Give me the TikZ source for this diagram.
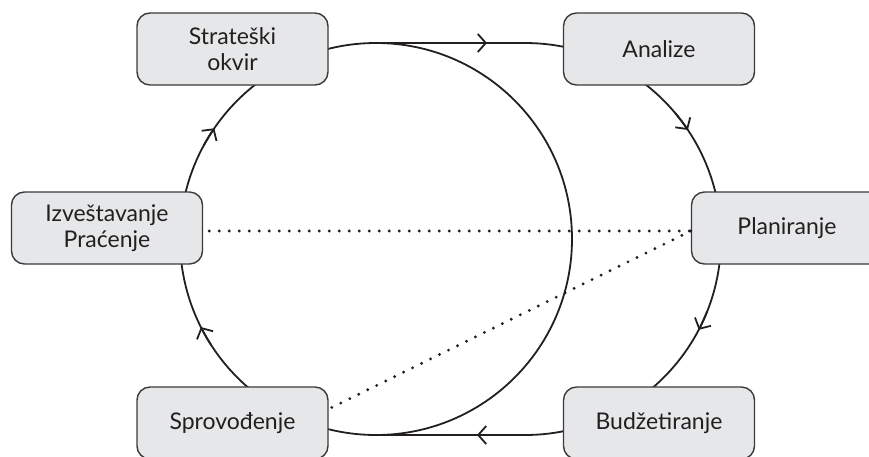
\documentclass[tikz,border=0pt]{standalone}
\usepackage{fontspec}
\setmainfont{Lato}
\usetikzlibrary{arrows.meta,calc}
\definecolor{boxfill}{HTML}{E6E7E8}
\definecolor{boxline}{HTML}{3A3A3A}
\definecolor{ink}{HTML}{231F20}
\tikzset{
  stagebox/.style={draw=boxline, line width=1.4pt, fill=boxfill, rounded corners=13pt,
    minimum width=191pt, minimum height=72pt, align=center, inner sep=0pt,
    font=\fontsize{23}{26}\selectfont, text=ink},
  loopline/.style={draw=ink, line width=1.8pt},
  chev/.style={draw=ink, line width=1.8pt, -{Straight Barb[length=8pt,width=18pt]}},
  dotline/.style={draw=ink, line width=3.2pt, line cap=round, dash pattern=on 0pt off 10pt}
}
\begin{document}
\begin{tikzpicture}[x=1pt,y=-1pt]
\useasboundingbox (0,0) rectangle (869,456);
\clip (0,0) rectangle (869,456);
% loop
\draw[loopline] (376,239) circle[radius=196];
\draw[loopline] (376,43) -- (525,43) arc[start angle=-90,end angle=90,radius=196] -- (376,435);
% arrowheads
\draw[chev] (478,43) -- (487,43);
\draw[chev] (486,435) -- (477,435);
\draw[chev] (525,239) ++(-40:196) arc[start angle=-40,end angle=-33.8,radius=196];
\draw[chev] (525,239) ++(21.6:196) arc[start angle=21.6,end angle=27.6,radius=196];
\draw[chev] (376,239) ++(147.3:196) arc[start angle=147.3,end angle=153.3,radius=196];
\draw[chev] (376,239) ++(208.4:196) arc[start angle=208.4,end angle=214.4,radius=196];
% boxes
\node[stagebox] (str) at (232.5,49) {Strateški\\okvir};
\node[stagebox] (ana) at (659,49) {Analize};
\node[stagebox] (izv) at (107,228) {Izveštavanje\\Praćenje};
\node[stagebox] (pla) at (787,228) {Planiranje};
\node[stagebox] (spr) at (232.5,423) {Sprovođenje};
\node[stagebox] (bud) at (659,423) {Budžetiranje};
% dotted links
\coordinate (plaw) at ([yshift=-3]pla.west);
\coordinate (izve) at ([yshift=-3]izv.east);
\coordinate (spre) at ([yshift=14]spr.east);
\draw[dotline] ([xshift=6]izve) -- (plaw);
\draw[dotline] (plaw) -- ($(spre)!-5pt!(plaw)$);
\end{tikzpicture}
\end{document}
